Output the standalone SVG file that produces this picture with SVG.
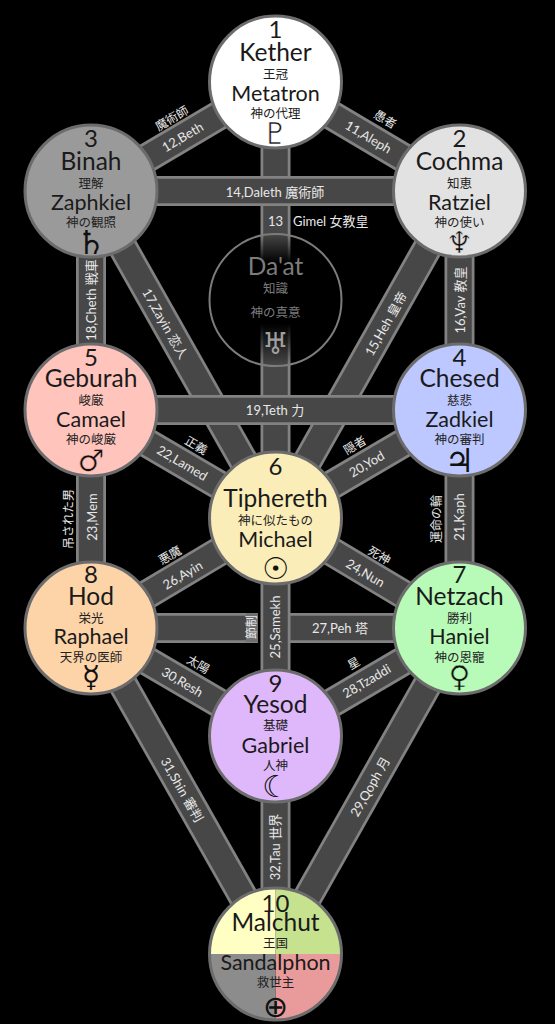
<svg xmlns="http://www.w3.org/2000/svg" width="555" height="1024" viewBox="0 0 555 1024">
<style>
.po{stroke:#828282;stroke-width:30;fill:none}
.pi{stroke:#474747;stroke-width:24.5;fill:none}
text{text-anchor:middle}
.d{font:24px Lato,"Liberation Sans",sans-serif;fill:#1a1a1a}
.k{font:21.5px Lato,"Liberation Sans",sans-serif;fill:#1a1a1a}
.t{font:24.5px Lato,"Liberation Sans",sans-serif;fill:#1a1a1a}
.j{font:12.5px "Noto Sans CJK JP",sans-serif;fill:#222}
.s{font:30px "DejaVu Sans",sans-serif;fill:#111}
.h{stroke:currentColor;stroke-width:.5}
.b{font-size:33px}
.l{font:13px Lato,"Liberation Sans","Noto Sans CJK JP",sans-serif;fill:#e8e8e8}
.c{font:12px "Noto Sans CJK JP",sans-serif;fill:#e8e8e8}
circle{stroke:#6c6c6c;stroke-width:3}
</style>
<defs>
<linearGradient id="dg" x1="0" y1="0" x2="0" y2="1">
<stop offset="0" stop-color="#000" stop-opacity="0"/>
<stop offset="0.22" stop-color="#000" stop-opacity="1"/>
<stop offset="0.68" stop-color="#000" stop-opacity="1"/>
<stop offset="1" stop-color="#000" stop-opacity="0"/>
</linearGradient>
</defs>
<rect width="555" height="1024" fill="#000"/>
<g id="connectors">
<line class="po" x1="275.5" y1="82" x2="275.5" y2="518"/><line class="pi" x1="275.5" y1="82" x2="275.5" y2="518"/>
<line class="po" x1="91" y1="191" x2="275.5" y2="518"/><line class="pi" x1="91" y1="191" x2="275.5" y2="518"/>
<line class="po" x1="459.5" y1="191" x2="275.5" y2="518"/><line class="pi" x1="459.5" y1="191" x2="275.5" y2="518"/>
<line class="po" x1="275.5" y1="82" x2="91" y2="191"/><line class="pi" x1="275.5" y1="82" x2="91" y2="191"/>
<line class="po" x1="275.5" y1="82" x2="459.5" y2="191"/><line class="pi" x1="275.5" y1="82" x2="459.5" y2="191"/>
<line class="po" x1="91" y1="191" x2="459.5" y2="191"/><line class="pi" x1="91" y1="191" x2="459.5" y2="191"/>
<line class="po" x1="91" y1="191" x2="91" y2="628"/><line class="pi" x1="91" y1="191" x2="91" y2="628"/>
<line class="po" x1="459.5" y1="191" x2="459.5" y2="628"/><line class="pi" x1="459.5" y1="191" x2="459.5" y2="628"/>
<line class="po" x1="91" y1="410" x2="459.5" y2="410"/><line class="pi" x1="91" y1="410" x2="459.5" y2="410"/>
<line class="po" x1="91" y1="410" x2="275.5" y2="518"/><line class="pi" x1="91" y1="410" x2="275.5" y2="518"/>
<line class="po" x1="459.5" y1="410" x2="275.5" y2="518"/><line class="pi" x1="459.5" y1="410" x2="275.5" y2="518"/>
<line class="po" x1="275.5" y1="518" x2="91" y2="628"/><line class="pi" x1="275.5" y1="518" x2="91" y2="628"/>
<line class="po" x1="275.5" y1="518" x2="459.5" y2="628"/><line class="pi" x1="275.5" y1="518" x2="459.5" y2="628"/>
<line class="po" x1="91" y1="628" x2="459.5" y2="628"/><line class="pi" x1="91" y1="628" x2="459.5" y2="628"/>
<rect x="246" y="613" width="12" height="29" fill="#707070"/>
<rect x="258" y="612" width="4" height="31" fill="#000"/>
<line class="po" x1="275.5" y1="518" x2="275.5" y2="954"/><line class="pi" x1="275.5" y1="518" x2="275.5" y2="954"/>
<line class="po" x1="91" y1="628" x2="275.5" y2="736"/><line class="pi" x1="91" y1="628" x2="275.5" y2="736"/>
<line class="po" x1="459.5" y1="628" x2="275.5" y2="736"/><line class="pi" x1="459.5" y1="628" x2="275.5" y2="736"/>
<line class="po" x1="91" y1="628" x2="275.5" y2="954"/><line class="pi" x1="91" y1="628" x2="275.5" y2="954"/>
<line class="po" x1="459.5" y1="628" x2="275.5" y2="954"/><line class="pi" x1="459.5" y1="628" x2="275.5" y2="954"/>
</g>
<g id="labels">
<text class="l" transform="translate(185 141) rotate(-30.5)">12,Beth</text>
<text class="c" transform="translate(174 122) rotate(-30.5)">魔術師</text>
<text class="l" transform="translate(366 141) rotate(30.5)">11,Aleph</text>
<text class="c" transform="translate(383 123) rotate(30.5)">愚者</text>
<text class="l" x="275" y="197">14,Daleth 魔術師</text>
<text class="l" x="275.5" y="226">13</text>
<text class="l" x="293" y="226" style="text-anchor:start">Gimel 女教皇</text>
<text class="l" transform="translate(96 300) rotate(-90)">18,Cheth 戦車</text>
<text class="l" transform="translate(161 326) rotate(60.5)">17,Zayin 恋人</text>
<text class="l" transform="translate(390 326) rotate(-60.5)">15,Heh 皇帝</text>
<text class="l" transform="translate(465 300) rotate(-90)">16,Vav 教皇</text>
<text class="l" x="275" y="415">19,Teth 力</text>
<text class="l" transform="translate(180 467) rotate(30.5)">22,Lamed</text>
<text class="c" transform="translate(194 449) rotate(30.5)">正義</text>
<text class="l" transform="translate(369 468) rotate(-30.5)">20,Yod</text>
<text class="c" transform="translate(357 449) rotate(-30.5)">隠者</text>
<text class="l" transform="translate(97 517) rotate(-90)">23,Mem</text>
<text class="c" transform="translate(73 519) rotate(-90)">吊された男</text>
<text class="l" transform="translate(464 517) rotate(-90)">21,Kaph</text>
<text class="c" transform="translate(441 519) rotate(-90)">運命の輪</text>
<text class="l" transform="translate(185 579) rotate(-30.5)">26,Ayin</text>
<text class="c" transform="translate(172 559) rotate(-30.5)">悪魔</text>
<text class="l" transform="translate(363 577) rotate(30.5)">24,Nun</text>
<text class="c" transform="translate(377 559) rotate(30.5)">死神</text>
<text class="l" transform="translate(280 627) rotate(-90)">25,Samekh</text>
<text class="c" transform="translate(256 627) rotate(-90)">節制</text>
<text class="l" x="340" y="633">27,Peh 塔</text>
<text class="l" transform="translate(180 686) rotate(30.5)">30,Resh</text>
<text class="c" transform="translate(196 668) rotate(30.5)">太陽</text>
<text class="l" transform="translate(369 685) rotate(-30.5)">28,Tzaddi</text>
<text class="c" transform="translate(356 667) rotate(-30.5)">星</text>
<text class="l" transform="translate(178 792) rotate(60.5)">31,Shin 審判</text>
<text class="l" transform="translate(280 847) rotate(-90)">32,Tau 世界</text>
<text class="l" transform="translate(374 789) rotate(-60.5)">29,Qoph 月</text>
</g>
<g id="node-daat">
<circle cx="275.5" cy="300" r="66" fill="url(#dg)" style="stroke:#7c7c7c;stroke-width:2"/>
<text class="t" x="275.5" y="275" style="fill:#7c7c7c">Da'at</text>
<text class="j" x="275.5" y="293" style="fill:#7c7c7c">知識</text>
<text class="j" x="275.5" y="317" style="fill:#7c7c7c">神の真意</text>
<text class="s" x="275.5" y="354" style="fill:#a0a0a0">♅</text>
</g>
<g id="node-1" style="color:#fff">
<circle cx="275.5" cy="82" r="66" fill="#fff"/>
<text class="d" x="275.5" y="38">1</text><text class="t" x="275.5" y="61">Kether</text>
<text class="j" x="275.5" y="79">王冠</text><text class="k" x="275.5" y="101">Metatron</text>
<text class="j" x="275.5" y="118">神の代理</text><text class="s h" x="275.5" y="144">♇</text>
</g>
<g id="node-3">
<circle cx="91" cy="191" r="66" fill="#9a9a9a"/>
<text class="d" x="91" y="147">3</text><text class="t" x="91" y="170">Binah</text>
<text class="j" x="91" y="188">理解</text><text class="k" x="91" y="210">Zaphkiel</text>
<text class="j" x="91" y="227">神の観照</text><text class="s b" x="91" y="254">♄</text>
</g>
<g id="node-2" style="color:#e2e2e2">
<circle cx="459.5" cy="191" r="66" fill="#e2e2e2"/>
<text class="d" x="459.5" y="147">2</text><text class="t" x="459.5" y="170">Cochma</text>
<text class="j" x="459.5" y="188">知恵</text><text class="k" x="459.5" y="210">Ratziel</text>
<text class="j" x="459.5" y="227">神の使い</text><text class="s h" x="459.5" y="253">♆</text>
</g>
<g id="node-5" style="color:#ffc4bc">
<circle cx="91" cy="410" r="66" fill="#ffc4bc"/>
<text class="d" x="91" y="366">5</text><text class="t" x="91" y="387">Geburah</text>
<text class="j" x="91" y="405">峻厳</text><text class="k" x="91" y="427">Camael</text>
<text class="j" x="91" y="444">神の峻厳</text><text class="s h" x="91" y="471">♂</text>
</g>
<g id="node-4">
<circle cx="459.5" cy="410" r="66" fill="#bcc8ff"/>
<text class="d" x="459.5" y="366">4</text><text class="t" x="459.5" y="387">Chesed</text>
<text class="j" x="459.5" y="405">慈悲</text><text class="k" x="459.5" y="427">Zadkiel</text>
<text class="j" x="459.5" y="444">神の審判</text><text class="s b" x="459.5" y="472">♃</text>
</g>
<g id="node-6">
<circle cx="275.5" cy="518" r="66" fill="#fbedb8"/>
<text class="d" x="275.5" y="475">6</text><text class="t" x="275.5" y="507">Tiphereth</text>
<text class="j" x="275.5" y="525">神に似たもの</text><text class="k" x="275.5" y="547">Michael</text>
<text class="s" x="275.5" y="579">☉</text>
</g>
<g id="node-8">
<circle cx="91" cy="628" r="66" fill="#fdd3a8"/>
<text class="d" x="91" y="583">8</text><text class="t" x="91" y="605">Hod</text>
<text class="j" x="91" y="623">栄光</text><text class="k" x="91" y="644">Raphael</text>
<text class="j" x="91" y="662">天界の医師</text><text class="s" x="91" y="687">☿</text>
</g>
<g id="node-7" style="color:#b8fbb8">
<circle cx="459.5" cy="628" r="66" fill="#b8fbb8"/>
<text class="d" x="459.5" y="583">7</text><text class="t" x="459.5" y="605">Netzach</text>
<text class="j" x="459.5" y="623">勝利</text><text class="k" x="459.5" y="644">Haniel</text>
<text class="j" x="459.5" y="662">神の恩寵</text><text class="s h" x="459.5" y="687">♀</text>
</g>
<g id="node-9">
<circle cx="275.5" cy="736" r="66" fill="#dfb8fb"/>
<text class="d" x="275.5" y="692">9</text><text class="t" x="275.5" y="713">Yesod</text>
<text class="j" x="275.5" y="730">基礎</text><text class="k" x="275.5" y="753">Gabriel</text>
<text class="j" x="275.5" y="770">人神</text><text class="s" x="275.5" y="797">☾</text>
</g>
<g id="node-10">
<path d="M275.5 954V888A66 66 0 0 0 209.5 954Z" fill="#ffffc4"/>
<path d="M275.5 954V888A66 66 0 0 1 341.5 954Z" fill="#c6e28f"/>
<path d="M275.5 954H209.5A66 66 0 0 0 275.5 1020Z" fill="#8c8c8c"/>
<path d="M275.5 954H341.5A66 66 0 0 1 275.5 1020Z" fill="#e99a9a"/>
<circle cx="275.5" cy="954" r="66" fill="none"/>
<text class="d" x="275.5" y="912">10</text><text class="t" x="275.5" y="931">Malchut</text>
<text class="j" x="275.5" y="948">王国</text><text class="k" x="275.5" y="970">Sandalphon</text>
<text class="j" x="275.5" y="987">救世主</text><text class="s" x="275.5" y="1017">⊕</text>
</g>
</svg>
